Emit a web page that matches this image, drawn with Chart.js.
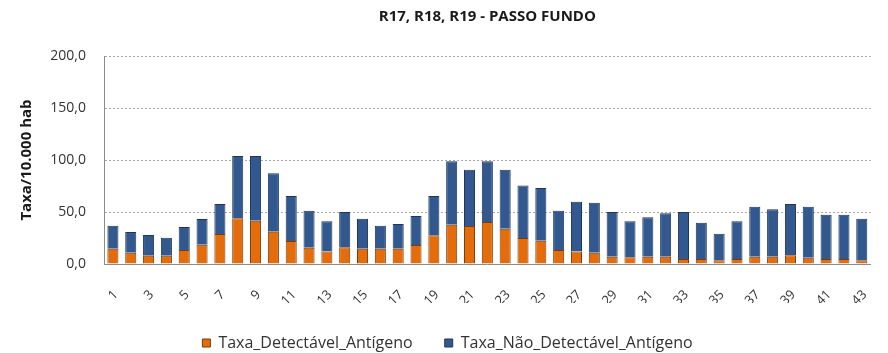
<!DOCTYPE html>
<html lang="pt-BR">
<head>
<meta charset="UTF-8">
<title>R17, R18, R19 - PASSO FUNDO</title>
<script src="https://cdn.jsdelivr.net/npm/chart.js@4.4.1/dist/chart.umd.min.js"></script>
<style>
  html, body { margin: 0; padding: 0; background: #fff; }
  #wrap { width: 888px; height: 353px; }
</style>
</head>
<body>
<div id="wrap"><canvas id="chart" width="888" height="353"></canvas></div>
<script>
// semanas epidemiológicas
const semanas = [1,2,3,4,5,6,7,8,9,10,11,12,13,14,15,16,17,18,19,20,21,22,23,24,25,26,27,28,29,30,31,32,33,34,35,36,37,38,39,40,41,42,43];

// taxa por 10.000 hab
const detectavel = [14.7,10.9,8.0,8.0,13.5,18.6,28.8,43.9,41.7,31.1,22.1,15.7,11.9,16.0,14.7,14.7,14.7,18.3,27.6,37.8,36.5,40.4,33.9,25.0,22.4,13.5,11.9,10.9,7.0,6.4,7.0,7.0,4.8,4.8,3.5,4.8,7.0,7.0,8.3,6.1,4.8,4.8,3.5];
const naoDetectavel = [22.1,19.9,19.9,17.3,22.1,24.7,28.9,59.9,62.1,56.1,43.3,35.6,29.1,34.0,28.9,22.1,23.8,27.9,37.8,60.9,54.2,58.3,56.8,50.6,50.7,37.8,48.0,48.0,43.0,34.6,37.9,41.7,45.2,34.9,25.6,36.2,48.1,45.6,49.4,49.0,42.6,42.6,40.1];

const yTicks = [0, 50, 100, 150, 200];

const fonte = "'Open Sans', 'Liberation Sans', sans-serif";
const fmt = v => v.toFixed(1).replace('.', ',');

new Chart(document.getElementById('chart'), {
  type: 'bar',
  data: {
    labels: semanas,
    datasets: [
      {
        label: 'Taxa_Detectável_Antígeno',
        data: detectavel,
        backgroundColor: '#E46C0A',
        borderColor: '#7a3d0a',
        borderWidth: 1
      },
      {
        label: 'Taxa_Não_Detectável_Antígeno',
        data: naoDetectavel,
        backgroundColor: '#31598F',
        borderColor: '#1f3656',
        borderWidth: 1
      }
    ]
  },
  options: {
    responsive: false,
    devicePixelRatio: 1,
    animation: false,
    layout: { padding: { left: 10, right: 3, top: 8, bottom: 0 } },
    datasets: { bar: { categoryPercentage: 1, barPercentage: 0.62 } },
    plugins: {
      title: {
        display: true,
        text: 'R17, R18, R19 - PASSO FUNDO',
        fullSize: false,
        color: '#1a1a1a',
        font: { family: fonte, size: 15, weight: 'bold' },
        padding: { top: 0, bottom: 30 }
      },
      legend: {
        position: 'bottom',
        maxHeight: 50,
        labels: {
          boxWidth: 8,
          boxHeight: 8,
          padding: 32,
          color: '#333',
          font: { family: fonte, size: 16 }
        }
      },
      tooltip: { enabled: false }
    },
    scales: {
      x: {
        stacked: true,
        grid: { display: false },
        border: { display: true, color: '#8c8c8c' },
        ticks: {
          autoSkip: false,
          maxRotation: 45,
          minRotation: 45,
          padding: 15,
          labelOffset: 3,
          color: '#333',
          font: { family: fonte, size: 13 },
          callback: (v, i) => (i % 2 === 0 ? String(semanas[i]) : '')
        },
        afterFit: s => { s.height = 39; }
      },
      y: {
        stacked: true,
        min: 0,
        max: 200,
        afterBuildTicks: s => { s.ticks = yTicks.map(v => ({ value: v })); },
        grid: {
          color: '#a8a8a8',
          drawTicks: false
        },
        // tracejado das linhas de grade
        border: { display: true, color: '#8c8c8c', dash: [2, 2] },
        ticks: {
          padding: 18,
          color: '#333',
          font: { family: fonte, size: 14 },
          callback: v => fmt(v)
        },
        title: {
          display: true,
          text: 'Taxa/10.000 hab',
          color: '#1a1a1a',
          font: { family: fonte, size: 15, weight: 'bold' },
          padding: { top: 8, bottom: 0 }
        },
        afterFit: s => { s.width = 94; }
      }
    }
  }
});
</script>
</body>
</html>
